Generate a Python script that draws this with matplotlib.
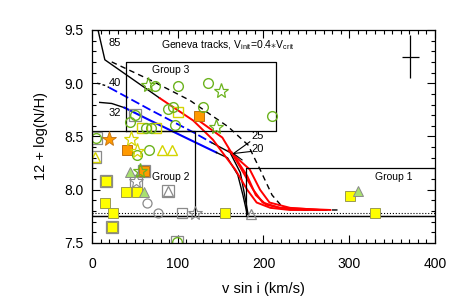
import numpy as np
import matplotlib.pyplot as plt

plt.rcParams['font.family'] = ['Liberation Sans', 'DejaVu Sans']
plt.rcParams['mathtext.fontset'] = 'custom'
plt.rcParams['mathtext.rm'] = 'Liberation Sans'

green = '#6cb31e'
yellow = '#ffff00'
yel_edge = '#d4d400'
orange = '#ff9900'
gray = '#8a8a8a'

# evolutionary tracks (v sin i, 12+log N/H)
t85_x = [7, 15, 79]
t85_y = [9.50, 9.22, 8.86]
t85d_x = [23, 68, 114, 159, 182, 196, 210, 223, 243, 289]
t85d_y = [9.20, 9.03, 8.84, 8.59, 8.42, 8.19, 7.95, 7.83, 7.81, 7.81]
t40s_x = [6, 15, 20]
t40s_y = [9.00, 8.98, 8.96]
t40b_x = [20, 68, 118, 140]
t40b_y = [8.96, 8.75, 8.54, 8.44]
t40k_x = [140, 161, 173, 178, 182]
t40k_y = [8.44, 8.35, 8.16, 7.95, 7.77]
t32s_x = [9, 23, 38]
t32s_y = [8.82, 8.81, 8.77]
t32b_x = [38, 68, 114, 145]
t32b_y = [8.77, 8.65, 8.47, 8.35]
t32k_x = [145, 158, 170, 176, 181]
t32k_y = [8.35, 8.30, 8.14, 7.95, 7.77]
red_tracks = [
    ([79, 118, 141, 167, 181, 192, 208, 231, 272],
     [8.86, 8.65, 8.47, 8.19, 8.00, 7.88, 7.83, 7.81, 7.81]),
    ([121, 152, 173, 188, 199, 219, 278],
     [8.67, 8.49, 8.21, 8.00, 7.88, 7.83, 7.81]),
    ([159, 184, 196, 207, 231, 266],
     [8.37, 8.19, 8.00, 7.88, 7.83, 7.81]),
    ([163, 181, 191, 203, 225],
     [8.35, 8.13, 7.95, 7.86, 7.82]),
]

# stars
gc_x = [73, 100, 135, 89, 94, 129, 210, 97, 50, 44, 63, 69, 5, 53, 66, 99]
gc_y = [8.97, 8.97, 9.00, 8.76, 8.78, 8.78, 8.69, 8.61, 8.70, 8.64, 8.58, 8.58, 8.49, 8.33, 8.37, 7.51]
gs_x = [65, 150, 145, 56]
gs_y = [8.98, 8.93, 8.59, 8.18]
ysq_x = [16, 40, 52, 15, 24, 23, 155, 301, 330]
ysq_y = [8.08, 7.98, 7.98, 7.88, 7.78, 7.65, 7.78, 7.94, 7.78]
yosq_x = [100, 58, 75]
yosq_y = [8.73, 8.58, 8.58]
osq_x = [125, 41, 61]
osq_y = [8.69, 8.37, 8.18]
ost_x = [20]
ost_y = [8.48]
yst_x = [46, 52]
yst_y = [8.48, 8.36]
ytri_x = [3, 82, 93]
ytri_y = [8.31, 8.37, 8.37]
gtri_x = [44, 61, 310]
gtri_y = [8.17, 7.98, 7.99]
gycirc_x = [64, 77]
gycirc_y = [7.88, 7.78]
gysq_x = [105]
gysq_y = [7.78]
gyst_x = [120, 51]
gyst_y = [7.78, 8.08]
gytri_x = [185, 89]
gytri_y = [7.77, 7.99]
box_x = [5, 3, 16, 51, 89, 23, 99, 50, 61]
box_y = [8.49, 8.31, 8.08, 8.08, 7.99, 7.65, 7.51, 8.70, 8.18]

groups = {'Group 1': (180, 400, 7.75, 8.2),
          'Group 2': (0, 120, 7.75, 8.55),
          'Group 3': (40, 215, 8.55, 9.2)}
group_text = {'Group 1': (330, 8.12), 'Group 2': (70, 8.12), 'Group 3': (70, 9.12)}

fig = plt.figure(figsize=(4.63, 3.05), dpi=100)
ax = fig.add_axes([0.1987, 0.2033, 0.7408, 0.6984])

# tracks
ax.plot(t85_x, t85_y, color='k', lw=1.0)
ax.plot(t85d_x, t85d_y, color='k', lw=1.0, ls=(0, (4, 3)))
ax.plot(t40s_x, t40s_y, color='k', lw=1.0, ls=(0, (2, 2)))
ax.plot(t40b_x, t40b_y, color='b', lw=1.3, ls=(0, (5, 2)))
ax.plot(t40k_x, t40k_y, color='k', lw=1.0)
ax.plot(t32s_x, t32s_y, color='k', lw=1.0)
ax.plot(t32b_x, t32b_y, color='b', lw=1.5)
ax.plot(t32k_x, t32k_y, color='k', lw=1.0)
for rx, ry in red_tracks:
    ax.plot(rx, ry, color='red', lw=1.4)

# pointer lines for 25 / 20 labels
ax.plot([184, 165, 175], [8.45, 8.34, 8.28], color='k', lw=0.8)
ax.plot([186, 165], [8.36, 8.34], color='k', lw=0.8)

# reference lines
ax.axhline(7.78, color='k', lw=0.8, ls=':')
ax.axhline(7.75, color='k', lw=0.9)

# group boxes
for name, (x0, x1, y0, y1) in groups.items():
    ax.plot([x0, x1, x1, x0, x0], [y0, y0, y1, y1, y0], color='k', lw=0.9)
    tx, ty = group_text[name]
    ax.text(tx, ty, name, fontsize=7.5, va='center', ha='left')

# markers
ax.plot(box_x, box_y, 's', mfc='none', mec=gray, ms=9, mew=0.9)
ax.plot(ysq_x, ysq_y, 's', mfc=yellow, mec='#9a9a50', ms=6.5, mew=0.7)
ax.plot(yosq_x, yosq_y, 's', mfc='none', mec=yel_edge, ms=6.5, mew=1.0)
ax.plot(osq_x, osq_y, 's', mfc=orange, mec='#c07010', ms=6.5, mew=0.7)
ax.plot(gtri_x, gtri_y, '^', mfc='#a8e070', mec=gray, ms=7.5, mew=0.7)
ax.plot(ytri_x, ytri_y, '^', mfc='none', mec=yel_edge, ms=7.5, mew=1.0)
ax.plot(gycirc_x, gycirc_y, 'o', mfc='none', mec=gray, ms=6.5, mew=0.9)
ax.plot(gysq_x, gysq_y, 's', mfc='none', mec=gray, ms=6.5, mew=0.9)
ax.plot(gyst_x, gyst_y, '*', mfc='none', mec=gray, ms=10, mew=0.8)
ax.plot(gytri_x, gytri_y, '^', mfc='none', mec=gray, ms=7.5, mew=0.9)
ax.plot(gc_x, gc_y, 'o', mfc='none', mec=green, ms=7, mew=1.0)
ax.plot(gs_x, gs_y, '*', mfc='none', mec=green, ms=11, mew=0.9)
ax.plot(yst_x, yst_y, '*', mfc='none', mec=yel_edge, ms=11, mew=0.9)
ax.plot(ost_x, ost_y, '*', mfc=orange, mec='#c07010', ms=11, mew=0.6)

# typical error bars
ax.errorbar([371], [9.25], xerr=[10], yerr=[0.2], color='k', lw=0.9, capsize=0)

# labels
ax.text(80, 9.36, r'Geneva tracks, V$_{\rm init}$=0.4$\ast$V$_{\rm crit}$',
        fontsize=7.5, va='center')
for lab, lx, ly in [('85', 19, 9.38), ('40', 19, 9.0), ('32', 19, 8.72),
                    ('25', 186, 8.50), ('20', 186, 8.38)]:
    ax.text(lx, ly, lab, fontsize=8, va='center', ha='left')

ax.set_xlim(0, 400)
ax.set_ylim(7.5, 9.5)
ax.set_xticks([0, 100, 200, 300, 400])
ax.set_yticks([7.5, 8.0, 8.5, 9.0, 9.5])
ax.set_yticklabels(['7.5', '8.0', '8.5', '9.0', '9.5'])
ax.set_xticks(np.arange(0, 401, 10), minor=True)
ax.set_yticks(np.arange(7.5, 9.51, 0.1), minor=True)
ax.tick_params(which='both', direction='in', top=True, right=True, labelsize=10, width=0.8)
ax.tick_params(axis='x', which='major', length=6, pad=10)
ax.tick_params(axis='y', which='major', length=6, pad=6)
ax.tick_params(which='minor', length=3)
for s in ax.spines.values():
    s.set_linewidth(0.9)
ax.set_xlabel('v sin i (km/s)', fontsize=10.5, labelpad=8)
ax.set_ylabel('12 + log(N/H)', fontsize=10.5, labelpad=12)

fig.savefig('out.png', dpi=100)
